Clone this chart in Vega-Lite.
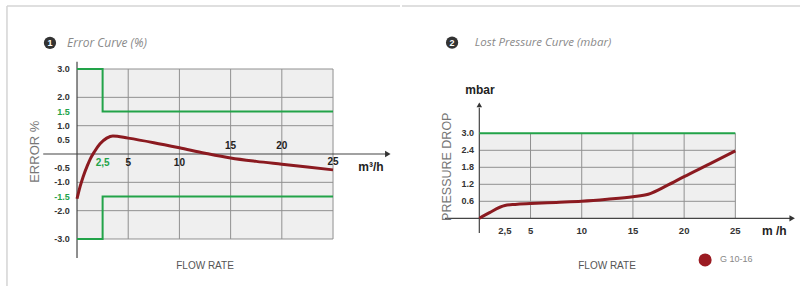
{
  "$schema": "https://vega.github.io/schema/vega-lite/v6.json",
  "padding": 0,
  "spacing": 0,
  "background": "white",
  "config": {"view": {"stroke": null}},
  "hconcat": [
    {
      "width": 400,
      "height": 286,
      "encoding": {
        "x": {"field": "x", "type": "quantitative", "scale": {"domain": [-7.52, 31.54], "nice": false, "zero": false}, "axis": null},
        "y": {"field": "y", "type": "quantitative", "scale": {"domain": [-4.659, 5.436], "nice": false, "zero": false}, "axis": null}
      },
      "layer": [
        {
          "data": {"values": [
            {"x": -6.84, "y": 5.22, "x2": -6.84, "y2": -4.659},
            {"x": -6.84, "y": 5.22, "x2": 31.54, "y2": 5.22}
          ]},
          "mark": {"type": "rule", "color": "#d4d4d4", "strokeWidth": 1.5},
          "encoding": {"x2": {"field": "x2"}, "y2": {"field": "y2"}}
        },
        {
          "data": {"values": [{"x": 0, "x2": 25, "y": -3, "y2": 3}]},
          "mark": {"type": "rect", "color": "#efefef"},
          "encoding": {"x2": {"field": "x2"}, "y2": {"field": "y2"}}
        },
        {
          "data": {"values": [
            {"x": 5, "y": -3, "x2": 5, "y2": 3},
            {"x": 10, "y": -3, "x2": 10, "y2": 3},
            {"x": 15, "y": -3, "x2": 15, "y2": 3},
            {"x": 20, "y": -3, "x2": 20, "y2": 3},
            {"x": 25, "y": -3, "x2": 25, "y2": 3},
            {"x": 0, "y": 3, "x2": 25, "y2": 3},
            {"x": 0, "y": 2, "x2": 25, "y2": 2},
            {"x": 0, "y": 1, "x2": 25, "y2": 1},
            {"x": 0, "y": -1, "x2": 25, "y2": -1},
            {"x": 0, "y": -2, "x2": 25, "y2": -2},
            {"x": 0, "y": -3, "x2": 25, "y2": -3}
          ]},
          "mark": {"type": "rule", "color": "#909090", "strokeWidth": 1},
          "encoding": {"x2": {"field": "x2"}, "y2": {"field": "y2"}}
        },
        {
          "data": {"values": [
            {"x": 0, "y": 3.26, "x2": 0, "y2": -3.67},
            {"x": -3.3, "y": 0, "x2": 30.2, "y2": 0}
          ]},
          "mark": {"type": "rule", "color": "#444444", "strokeWidth": 1.2},
          "encoding": {"x2": {"field": "x2"}, "y2": {"field": "y2"}}
        },
        {
          "data": {"values": [{"x": 30.35, "y": 0}]},
          "mark": {"type": "point", "shape": "triangle-right", "filled": true, "color": "#333333", "size": 40, "opacity": 1}
        },
        {
          "data": {"values": [
            {"series": "upper", "o": 1, "x": 0, "y": 3},
            {"series": "upper", "o": 2, "x": 2.5, "y": 3},
            {"series": "upper", "o": 3, "x": 2.5, "y": 1.5},
            {"series": "upper", "o": 4, "x": 25, "y": 1.5},
            {"series": "lower", "o": 1, "x": 0, "y": -3},
            {"series": "lower", "o": 2, "x": 2.5, "y": -3},
            {"series": "lower", "o": 3, "x": 2.5, "y": -1.5},
            {"series": "lower", "o": 4, "x": 25, "y": -1.5}
          ]},
          "mark": {"type": "line", "color": "#22a349", "strokeWidth": 2},
          "encoding": {"detail": {"field": "series"}, "order": {"field": "o"}}
        },
        {
          "data": {"values": [
            {"x": 0, "y": -1.58}, {"x": 0.3, "y": -1.15}, {"x": 0.6, "y": -0.8}, {"x": 1.0, "y": -0.42},
            {"x": 1.3, "y": -0.17}, {"x": 1.7, "y": 0.08}, {"x": 2.25, "y": 0.36}, {"x": 2.9, "y": 0.56},
            {"x": 3.5, "y": 0.64}, {"x": 5, "y": 0.56}, {"x": 7.5, "y": 0.4}, {"x": 10, "y": 0.22},
            {"x": 12.5, "y": 0.03}, {"x": 15, "y": -0.14}, {"x": 17.5, "y": -0.26}, {"x": 20, "y": -0.36},
            {"x": 22.5, "y": -0.46}, {"x": 25, "y": -0.56}
          ]},
          "mark": {"type": "line", "color": "#8b1a20", "strokeWidth": 3, "interpolate": "monotone"}
        },
        {
          "data": {"values": [
            {"x": -0.7, "y": 3, "text": "3.0"}, {"x": -0.7, "y": 2, "text": "2.0"}, {"x": -0.7, "y": 1, "text": "1.0"},
            {"x": -0.7, "y": 0.5, "text": "0.5"}, {"x": -0.7, "y": -0.5, "text": "-0.5"}, {"x": -0.7, "y": -1, "text": "-1.0"},
            {"x": -0.7, "y": -2, "text": "-2.0"}, {"x": -0.7, "y": -3, "text": "-3.0"}
          ]},
          "mark": {"type": "text", "align": "right", "baseline": "middle", "font": "Liberation Sans", "fontWeight": "bold", "fontSize": 9, "color": "#333333"},
          "encoding": {"text": {"field": "text"}}
        },
        {
          "data": {"values": [
            {"x": -0.7, "y": 1.5, "text": "1.5"}, {"x": -0.7, "y": -1.5, "text": "-1.5"}
          ]},
          "mark": {"type": "text", "align": "right", "baseline": "middle", "font": "Liberation Sans", "fontWeight": "bold", "fontSize": 9, "color": "#22a349"},
          "encoding": {"text": {"field": "text"}}
        },
        {
          "data": {"values": [{"x": 2.5, "y": -0.33, "text": "2,5"}]},
          "mark": {"type": "text", "align": "center", "baseline": "middle", "font": "Liberation Sans", "fontWeight": "bold", "fontSize": 10, "color": "#22a349"},
          "encoding": {"text": {"field": "text"}}
        },
        {
          "data": {"values": [
            {"x": 5, "y": -0.33, "text": "5"}, {"x": 10, "y": -0.33, "text": "10"}, {"x": 15, "y": 0.27, "text": "15"},
            {"x": 20, "y": 0.27, "text": "20"}, {"x": 25, "y": -0.27, "text": "25"}
          ]},
          "mark": {"type": "text", "align": "center", "baseline": "middle", "font": "Liberation Sans", "fontWeight": "bold", "fontSize": 10, "color": "#222222"},
          "encoding": {"text": {"field": "text"}}
        },
        {
          "data": {"values": [{"x": 28.7, "y": -0.45, "text": "m³/h"}]},
          "mark": {"type": "text", "align": "center", "baseline": "middle", "font": "Liberation Sans", "fontWeight": "bold", "fontSize": 12, "color": "#222222"},
          "encoding": {"text": {"field": "text"}}
        },
        {
          "data": {"values": [{"x": -4.1, "y": 0.08, "text": "ERROR %"}]},
          "mark": {"type": "text", "align": "center", "baseline": "middle", "angle": 270, "font": "Liberation Sans", "fontSize": 13, "color": "#777777"},
          "encoding": {"text": {"field": "text"}}
        },
        {
          "data": {"values": [{"x": 12.5, "y": -3.94, "text": "FLOW RATE"}]},
          "mark": {"type": "text", "align": "center", "baseline": "middle", "font": "Liberation Sans", "fontSize": 10, "color": "#555555"},
          "encoding": {"text": {"field": "text"}}
        },
        {
          "data": {"values": [{"x": -2.64, "y": 3.92}]},
          "mark": {"type": "point", "shape": "circle", "filled": true, "color": "#333333", "size": 150, "opacity": 1}
        },
        {
          "data": {"values": [{"x": -2.64, "y": 3.92, "text": "1"}]},
          "mark": {"type": "text", "align": "center", "baseline": "middle", "font": "Liberation Sans", "fontWeight": "bold", "fontSize": 9, "color": "white"},
          "encoding": {"text": {"field": "text"}}
        },
        {
          "data": {"values": [{"x": -0.98, "y": 3.92, "text": "Error Curve (%)"}]},
          "mark": {"type": "text", "align": "left", "baseline": "middle", "font": "Open Sans", "fontStyle": "italic", "fontSize": 12, "color": "#8a8a8a"},
          "encoding": {"text": {"field": "text"}}
        }
      ]
    },
    {
      "width": 400,
      "height": 286,
      "encoding": {
        "x": {"field": "x", "type": "quantitative", "scale": {"domain": [-7.55, 31.51], "nice": false, "zero": false}, "axis": null},
        "y": {"field": "y", "type": "quantitative", "scale": {"domain": [-2.39, 7.706], "nice": false, "zero": false}, "axis": null}
      },
      "layer": [
        {
          "data": {"values": [{"x": -7.55, "y": 7.49, "x2": 31.51, "y2": 7.49}]},
          "mark": {"type": "rule", "color": "#d4d4d4", "strokeWidth": 1.5},
          "encoding": {"x2": {"field": "x2"}, "y2": {"field": "y2"}}
        },
        {
          "data": {"values": [{"x": 0, "x2": 25, "y": 0, "y2": 3}]},
          "mark": {"type": "rect", "color": "#efefef"},
          "encoding": {"x2": {"field": "x2"}, "y2": {"field": "y2"}}
        },
        {
          "data": {"values": [
            {"x": 5, "y": 0, "x2": 5, "y2": 3},
            {"x": 10, "y": 0, "x2": 10, "y2": 3},
            {"x": 15, "y": 0, "x2": 15, "y2": 3},
            {"x": 20, "y": 0, "x2": 20, "y2": 3},
            {"x": 25, "y": 0, "x2": 25, "y2": 3},
            {"x": 0, "y": 0.6, "x2": 25, "y2": 0.6},
            {"x": 0, "y": 1.2, "x2": 25, "y2": 1.2},
            {"x": 0, "y": 1.8, "x2": 25, "y2": 1.8},
            {"x": 0, "y": 2.4, "x2": 25, "y2": 2.4}
          ]},
          "mark": {"type": "rule", "color": "#909090", "strokeWidth": 1},
          "encoding": {"x2": {"field": "x2"}, "y2": {"field": "y2"}}
        },
        {
          "data": {"values": [
            {"x": 0, "y": 3.9, "x2": 0, "y2": -0.52},
            {"x": -3.35, "y": 0, "x2": 30.4, "y2": 0}
          ]},
          "mark": {"type": "rule", "color": "#444444", "strokeWidth": 1.2},
          "encoding": {"x2": {"field": "x2"}, "y2": {"field": "y2"}}
        },
        {
          "data": {"values": [{"x": 30.55, "y": 0}]},
          "mark": {"type": "point", "shape": "triangle-right", "filled": true, "color": "#333333", "size": 40, "opacity": 1}
        },
        {
          "data": {"values": [{"x": 0, "y": 4.0}]},
          "mark": {"type": "point", "shape": "triangle-up", "filled": true, "color": "#333333", "size": 30, "opacity": 1}
        },
        {
          "data": {"values": [{"x": 0, "y": 3}, {"x": 25, "y": 3}]},
          "mark": {"type": "line", "color": "#22a349", "strokeWidth": 2}
        },
        {
          "data": {"values": [
            {"x": 0, "y": 0}, {"x": 1, "y": 0.2}, {"x": 2, "y": 0.39}, {"x": 2.5, "y": 0.45},
            {"x": 3.5, "y": 0.49}, {"x": 5, "y": 0.52}, {"x": 7.5, "y": 0.56}, {"x": 10, "y": 0.6},
            {"x": 12.5, "y": 0.67}, {"x": 15, "y": 0.76}, {"x": 16.5, "y": 0.85}, {"x": 18.3, "y": 1.15},
            {"x": 20, "y": 1.47}, {"x": 22.5, "y": 1.92}, {"x": 25, "y": 2.38}
          ]},
          "mark": {"type": "line", "color": "#8b1a20", "strokeWidth": 3, "interpolate": "monotone"}
        },
        {
          "data": {"values": [
            {"x": -0.52, "y": 3, "text": "3.0"}, {"x": -0.52, "y": 2.4, "text": "2.4"}, {"x": -0.52, "y": 1.8, "text": "1.8"},
            {"x": -0.52, "y": 1.2, "text": "1.2"}, {"x": -0.52, "y": 0.6, "text": "0.6"}
          ]},
          "mark": {"type": "text", "align": "right", "baseline": "middle", "font": "Liberation Sans", "fontWeight": "bold", "fontSize": 9, "color": "#333333"},
          "encoding": {"text": {"field": "text"}}
        },
        {
          "data": {"values": [
            {"x": 2.5, "y": -0.44, "text": "2,5"}, {"x": 5, "y": -0.44, "text": "5"}, {"x": 10, "y": -0.44, "text": "10"},
            {"x": 15, "y": -0.44, "text": "15"}, {"x": 20, "y": -0.44, "text": "20"}, {"x": 25, "y": -0.44, "text": "25"}
          ]},
          "mark": {"type": "text", "align": "center", "baseline": "middle", "font": "Liberation Sans", "fontWeight": "bold", "fontSize": 9.5, "color": "#333333"},
          "encoding": {"text": {"field": "text"}}
        },
        {
          "data": {"values": [{"x": 28.8, "y": -0.44, "text": "m /h"}, {"x": 0.07, "y": 4.53, "text": "mbar"}]},
          "mark": {"type": "text", "align": "center", "baseline": "middle", "font": "Liberation Sans", "fontWeight": "bold", "fontSize": 12, "color": "#222222"},
          "encoding": {"text": {"field": "text"}}
        },
        {
          "data": {"values": [{"x": -3.15, "y": 1.82, "text": "PRESSURE DROP"}]},
          "mark": {"type": "text", "align": "center", "baseline": "middle", "angle": 270, "font": "Liberation Sans", "fontSize": 12.5, "color": "#777777"},
          "encoding": {"text": {"field": "text"}}
        },
        {
          "data": {"values": [{"x": 12.47, "y": -1.67, "text": "FLOW RATE"}]},
          "mark": {"type": "text", "align": "center", "baseline": "middle", "font": "Liberation Sans", "fontSize": 10, "color": "#555555"},
          "encoding": {"text": {"field": "text"}}
        },
        {
          "data": {"values": [{"x": 22.05, "y": -1.47}]},
          "mark": {"type": "point", "shape": "circle", "filled": true, "color": "#9b1b22", "size": 170, "opacity": 1}
        },
        {
          "data": {"values": [{"x": 23.5, "y": -1.44, "text": "G 10-16"}]},
          "mark": {"type": "text", "align": "left", "baseline": "middle", "font": "Liberation Sans", "fontSize": 9, "color": "#888888"},
          "encoding": {"text": {"field": "text"}}
        },
        {
          "data": {"values": [{"x": -2.66, "y": 6.2}]},
          "mark": {"type": "point", "shape": "circle", "filled": true, "color": "#333333", "size": 150, "opacity": 1}
        },
        {
          "data": {"values": [{"x": -2.66, "y": 6.2, "text": "2"}]},
          "mark": {"type": "text", "align": "center", "baseline": "middle", "font": "Liberation Sans", "fontWeight": "bold", "fontSize": 9, "color": "white"},
          "encoding": {"text": {"field": "text"}}
        },
        {
          "data": {"values": [{"x": -0.45, "y": 6.2, "text": "Lost Pressure Curve (mbar)"}]},
          "mark": {"type": "text", "align": "left", "baseline": "middle", "font": "Open Sans", "fontStyle": "italic", "fontSize": 11.5, "color": "#8a8a8a"},
          "encoding": {"text": {"field": "text"}}
        }
      ]
    }
  ]
}
